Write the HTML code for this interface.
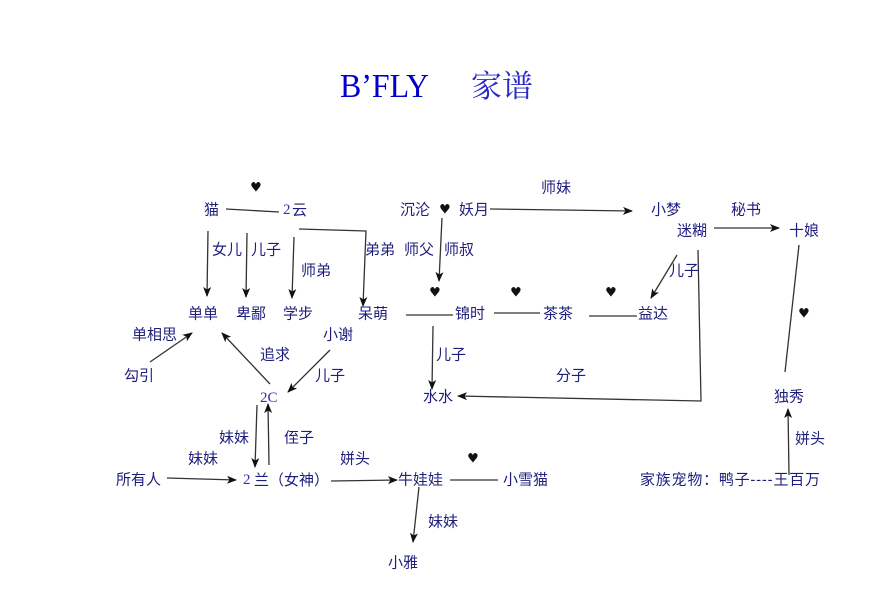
<!DOCTYPE html>
<html><head><meta charset="utf-8"><style>
html,body{margin:0;padding:0;background:#fff;}
svg{display:block;}
.t{font-family:"Liberation Sans","Noto Sans CJK SC",sans-serif;font-size:15px;fill:#1e1e7c;dominant-baseline:central;}
.n{font-family:"Liberation Serif",serif;fill:#3030b8;}
.h{font-family:"DejaVu Sans",sans-serif;font-size:13px;fill:#111;dominant-baseline:central;text-anchor:middle;}
.l{stroke:#333;stroke-width:1.3;fill:none;}
</style></head><body>
<svg width="888" height="598" viewBox="0 0 888 598" xmlns="http://www.w3.org/2000/svg">
<defs>
<marker id="a" markerWidth="10" markerHeight="8" refX="9" refY="4" orient="auto" markerUnits="userSpaceOnUse">
<path d="M0,0 L10,4 L0,8 L2.5,4 z" fill="#111"/>
</marker>
</defs>
<rect width="888" height="598" fill="#fff"/>
<!-- title -->
<text x="340" y="97" font-family="Liberation Serif, serif" font-size="34" fill="#0000c8" textLength="89" lengthAdjust="spacingAndGlyphs">B’FLY</text>
<text x="471" y="97" font-family="Liberation Serif, Noto Serif CJK SC, serif" font-size="31" fill="#2828c8">家谱</text>

<!-- lines -->
<path class="l" d="M226,209 L279,212"/>
<path class="l" d="M299,229 L366,231 L363,306" marker-end="url(#a)"/>
<path class="l" d="M208,231 L207,296" marker-end="url(#a)"/>
<path class="l" d="M247,233 L246,297" marker-end="url(#a)"/>
<path class="l" d="M294,237 L292,298" marker-end="url(#a)"/>
<path class="l" d="M490,209 L632,211" marker-end="url(#a)"/>
<path class="l" d="M714,228 L779,228" marker-end="url(#a)"/>
<path class="l" d="M442,218 L439,281" marker-end="url(#a)"/>
<path class="l" d="M406,315 L453,315"/>
<path class="l" d="M494,313 L540,313"/>
<path class="l" d="M589,316 L637,316"/>
<path class="l" d="M677,255 L651,298" marker-end="url(#a)"/>
<path class="l" d="M698,250 L701,401 L458,396" marker-end="url(#a)"/>
<path class="l" d="M433,326 L432,389" marker-end="url(#a)"/>
<path class="l" d="M799,245 L785,372"/>
<path class="l" d="M789,475 L788,409" marker-end="url(#a)"/>
<path class="l" d="M150,362 L192,333" marker-end="url(#a)"/>
<path class="l" d="M270,384 L222,333" marker-end="url(#a)"/>
<path class="l" d="M330,350 L288,392" marker-end="url(#a)"/>
<path class="l" d="M257,405 L255,467" marker-end="url(#a)"/>
<path class="l" d="M269,465 L268,404" marker-end="url(#a)"/>
<path class="l" d="M167,478 L236,480" marker-end="url(#a)"/>
<path class="l" d="M331,481 L397,480" marker-end="url(#a)"/>
<path class="l" d="M450,480 L498,480"/>
<path class="l" d="M419,487 L413,542" marker-end="url(#a)"/>

<!-- hearts -->
<text class="h" x="256" y="188">♥</text>
<text class="h" x="445" y="210">♥</text>
<text class="h" x="435" y="293">♥</text>
<text class="h" x="516" y="293">♥</text>
<text class="h" x="611" y="293">♥</text>
<text class="h" x="804" y="314">♥</text>
<text class="h" x="473" y="459">♥</text>

<!-- labels -->
<text class="t" x="204" y="210">猫</text>
<text class="t" x="283" y="210"><tspan class="n">2</tspan><tspan x="292">云</tspan></text>
<text class="t" x="212" y="250">女儿</text>
<text class="t" x="251" y="250">儿子</text>
<text class="t" x="301" y="271">师弟</text>
<text class="t" x="365" y="250">弟弟</text>
<text class="t" x="404" y="250">师父</text>
<text class="t" x="444" y="250">师叔</text>
<text class="t" x="188" y="314">单单</text>
<text class="t" x="236" y="314">卑鄙</text>
<text class="t" x="283" y="314">学步</text>
<text class="t" x="358" y="314">呆萌</text>
<text class="t" x="400" y="210">沉沦</text>
<text class="t" x="459" y="210">妖月</text>
<text class="t" x="541" y="188">师妹</text>
<text class="t" x="651" y="210">小梦</text>
<text class="t" x="677" y="231">迷糊</text>
<text class="t" x="731" y="210">秘书</text>
<text class="t" x="789" y="231">十娘</text>
<text class="t" x="455" y="314">锦时</text>
<text class="t" x="543" y="314">茶茶</text>
<text class="t" x="638" y="314">益达</text>
<text class="t" x="669" y="271">儿子</text>
<text class="t" x="556" y="376">分子</text>
<text class="t" x="436" y="355">儿子</text>
<text class="t" x="423" y="397">水水</text>
<text class="t" x="774" y="397">独秀</text>
<text class="t" x="795" y="439">姘头</text>
<text class="t" x="640" y="480" textLength="180" lengthAdjust="spacing">家族宠物：鸭子----王百万</text>
<text class="t" x="132" y="335">单相思</text>
<text class="t" x="124" y="376">勾引</text>
<text class="t" x="260" y="355">追求</text>
<text class="t" x="323" y="335">小谢</text>
<text class="t" x="315" y="376">儿子</text>
<text class="t n" x="260" y="398" font-size="16">2C</text>
<text class="t" x="219" y="438">妹妹</text>
<text class="t" x="284" y="438">侄子</text>
<text class="t" x="188" y="459">妹妹</text>
<text class="t" x="116" y="480">所有人</text>
<text class="t" x="243" y="480"><tspan class="n">2</tspan><tspan x="254">兰（女神）</tspan></text>
<text class="t" x="340" y="459">姘头</text>
<text class="t" x="398" y="480">牛娃娃</text>
<text class="t" x="503" y="480">小雪猫</text>
<text class="t" x="428" y="522">妹妹</text>
<text class="t" x="388" y="563">小雅</text>
</svg>
</body></html>
